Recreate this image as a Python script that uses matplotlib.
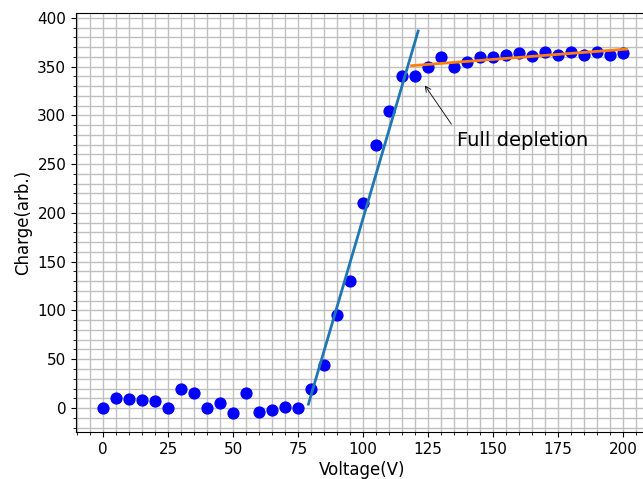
import matplotlib
matplotlib.use("Agg")
import matplotlib.pyplot as plt
from matplotlib.ticker import MultipleLocator

voltage = [0, 5, 10, 15, 20, 25, 30, 35, 40, 45, 50, 55, 60, 65, 70, 75, 80, 85, 90, 95,
           100, 105, 110, 115, 120, 125, 130, 135, 140, 145, 150, 155, 160, 165, 170, 175,
           180, 185, 190, 195, 200]
charge = [0, 10, 9, 8, 7, 0, 20, 15, 0, 5, -5, 15, -4, -2, 1, 0, 20, 44, 95, 130,
          210, 270, 305, 340, 340, 350, 360, 350, 355, 360, 360, 362, 364, 361, 365, 362,
          365, 362, 365, 362, 364]

rise_fit_x = [79, 121.2]
rise_fit_y = [4, 386.5]
plateau_fit_x = [118.7, 201.4]
plateau_fit_y = [351, 368]

annot_text = "Full depletion"
annot_point = (123.2, 333)
arrow_tail = (134, 291)
text_pos = (136, 269)

W, H = 643, 479
fig = plt.figure(figsize=(W / 100, H / 100), dpi=100)
ax = fig.add_axes([76 / W, (H - 432) / H, 573 / W, 419 / H])

ax.set_axisbelow(True)
ax.grid(which="both", color="#c0c0c0", linewidth=1.0)
ax.plot(voltage, charge, "o", color="blue", markersize=7.8, zorder=2)
ax.plot(rise_fit_x, rise_fit_y, color="#1f77b4", linewidth=2, zorder=3)
ax.plot(plateau_fit_x, plateau_fit_y, color="#ff7f0e", linewidth=2, zorder=3)

ax.annotate("", xy=annot_point, xytext=arrow_tail,
            arrowprops=dict(arrowstyle="->", color="black", lw=0.6, shrinkA=0, shrinkB=2))
ax.text(text_pos[0], text_pos[1], annot_text, fontsize=14, va="baseline")

ax.set_xlim(-10.4, 210)
ax.set_ylim(-24.6, 405)
ax.xaxis.set_major_locator(MultipleLocator(25))
ax.xaxis.set_minor_locator(MultipleLocator(5))
ax.yaxis.set_major_locator(MultipleLocator(50))
ax.yaxis.set_minor_locator(MultipleLocator(10))
ax.tick_params(labelsize=11)
ax.set_xlabel("Voltage(V)", fontsize=12, labelpad=3)
ax.set_ylabel("Charge(arb.)", fontsize=12)

fig.savefig("out.png", dpi=100)
